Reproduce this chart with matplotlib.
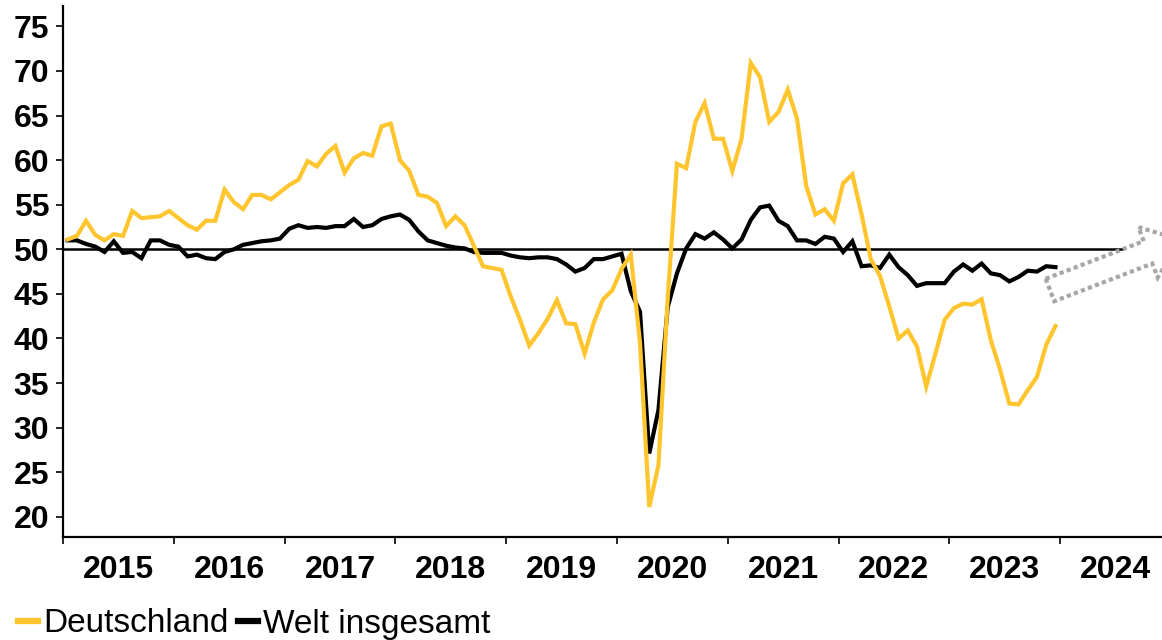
import numpy as np
import matplotlib
matplotlib.use("Agg")
import matplotlib.pyplot as plt
from matplotlib.patches import Polygon
from matplotlib.lines import Line2D

# ---------------- data ----------------
years = list(range(2015, 2025))
year_labels = [str(y) for y in years]
y_ticks = [20, 25, 30, 35, 40, 45, 50, 55, 60, 65, 70, 75]

deutschland = [
    51.1, 51.5, 53.2, 51.6, 51.0, 51.7, 51.5, 54.3, 53.5, 53.6, 53.7, 54.3,  # 2015
    53.5, 52.7, 52.2, 53.2, 53.2, 56.7, 55.3, 54.5, 56.1, 56.1, 55.6, 56.4,  # 2016
    57.2, 57.8, 59.9, 59.3, 60.7, 61.6, 58.6, 60.2, 60.8, 60.5, 63.8, 64.1,  # 2017
    60.0, 58.8, 56.1, 55.9, 55.2, 52.6, 53.7, 52.7, 50.4, 48.1, 47.9, 47.7,  # 2018
    44.7, 42.1, 39.2, 40.6, 42.2, 44.3, 41.7, 41.6, 38.3, 41.8, 44.4, 45.4,  # 2019
    47.8, 49.4, 39.5, 21.1, 25.8, 44.5, 59.6, 59.1, 64.3, 66.4, 62.4, 62.4,  # 2020
    58.8, 62.4, 70.9, 69.3, 64.3, 65.4, 67.9, 64.7, 57.1, 53.9, 54.5, 53.2,  # 2021
    57.4, 58.4, 53.9, 48.9, 47.0, 43.6, 40.0, 40.9, 39.1, 34.6, 38.3, 42.1,  # 2022
    43.4, 43.9, 43.8, 44.4, 39.8, 36.5, 32.7, 32.6, 34.2, 35.7, 39.3, 41.4,  # 2023
]

welt = [
    51.0, 51.0, 50.6, 50.3, 49.7, 50.9, 49.6, 49.7, 49.0, 51.0, 51.0, 50.5,  # 2015
    50.3, 49.2, 49.4, 49.0, 48.9, 49.7, 50.0, 50.5, 50.7, 50.9, 51.0, 51.2,  # 2016
    52.3, 52.7, 52.4, 52.5, 52.4, 52.6, 52.6, 53.4, 52.5, 52.7, 53.4, 53.7,  # 2017
    53.9, 53.3, 52.0, 51.0, 50.7, 50.4, 50.2, 50.1, 49.7, 49.6, 49.6, 49.6,  # 2018
    49.3, 49.1, 49.0, 49.1, 49.1, 48.9, 48.3, 47.5, 47.9, 48.9, 48.9, 49.2,  # 2019
    49.5, 45.3, 43.0, 27.1, 32.0, 43.5, 47.3, 50.1, 51.7, 51.2, 51.9, 51.1,  # 2020
    50.1, 51.1, 53.3, 54.7, 54.9, 53.2, 52.6, 51.0, 51.0, 50.6, 51.4, 51.2,  # 2021
    49.7, 50.9, 48.1, 48.2, 47.9, 49.4, 48.0, 47.1, 45.9, 46.2, 46.2, 46.2,  # 2022
    47.5, 48.3, 47.6, 48.4, 47.3, 47.1, 46.4, 46.9, 47.6, 47.5, 48.1, 48.0,  # 2023
]

series_names = ["Deutschland", "Welt insgesamt"]
reference_level = 50
reference_end = 2024.58

# ---------------- style ----------------
YELLOW = "#FFC52E"
BLACK = "#000000"
GRAY = "#A6A6A6"
FONT = ["Liberation Sans", "DejaVu Sans"]
plt.rcParams["font.family"] = FONT

W, H = 1162, 640
fig = plt.figure(figsize=(W / 100, H / 100), dpi=100)
ax_left, ax_bottom_px, ax_top_px = 63, 537, 6
ax = fig.add_axes([ax_left / W, 1 - ax_bottom_px / H, 1 - ax_left / W,
                   (ax_bottom_px - ax_top_px) / H])

x = years[0] + (np.arange(len(deutschland)) + 0.5) / 12.0

ax.hlines(reference_level, years[0], reference_end, color=BLACK, lw=1.8, zorder=2)
ax.plot(x, welt, color=BLACK, lw=3.0, solid_joinstyle="miter", zorder=3)
ax.plot(x, deutschland, color=YELLOW, lw=3.0, solid_joinstyle="miter", zorder=4)

ax.set_xlim(2015, 2024.92)
ax.set_ylim(17.73, 77.29)

for s in ["top", "right"]:
    ax.spines[s].set_visible(False)
for s in ["left", "bottom"]:
    ax.spines[s].set_linewidth(1.6)

ax.set_yticks(y_ticks)
ax.set_yticklabels([str(v) for v in y_ticks], fontsize=23, fontweight="bold")
ax.tick_params(axis="y", direction="out", length=5, width=1.2, pad=5)

ax.set_xticks(years)
ax.set_xticklabels([])
ax.set_xticks([y + 0.5 for y in years], minor=True)
ax.set_xticklabels(year_labels, minor=True, fontsize=23, fontweight="bold")
ax.tick_params(axis="x", which="major", direction="out", length=5, width=1.2)
ax.tick_params(axis="x", which="minor", length=0, pad=13)

# legend
handles = [Line2D([], [], color=YELLOW, lw=4.5), Line2D([], [], color=BLACK, lw=4.5)]
fig.legend(handles, series_names, loc="center left", bbox_to_anchor=(18 / W, 1 - 624 / H),
           ncol=2, frameon=False, fontsize=24, handlelength=0.6, handletextpad=0.15,
           columnspacing=0.3, borderpad=0, borderaxespad=0)

# dotted hollow arrow (decoration, pixel geometry)
theta = np.deg2rad(21)
S = np.array([1050.0, 290.0])
u = np.array([np.cos(theta), -np.sin(theta)])
n = np.array([np.sin(theta), np.cos(theta)])
w_s, w_h, L_s, L_h = 12, 27, 105, 35
pts = [S - n * w_s, S - n * w_s + u * L_s, S - n * w_h + u * L_s, S + u * (L_s + L_h),
       S + n * w_h + u * L_s, S + n * w_s + u * L_s, S + n * w_s]
pts = np.array([[p[0] / W, 1 - p[1] / H] for p in pts])
fig.add_artist(Polygon(pts, closed=True, fill=False, edgecolor=GRAY, lw=3.0,
                       linestyle=(0, (1.0, 0.8)), transform=fig.transFigure))

fig.savefig("out.png", dpi=100)
